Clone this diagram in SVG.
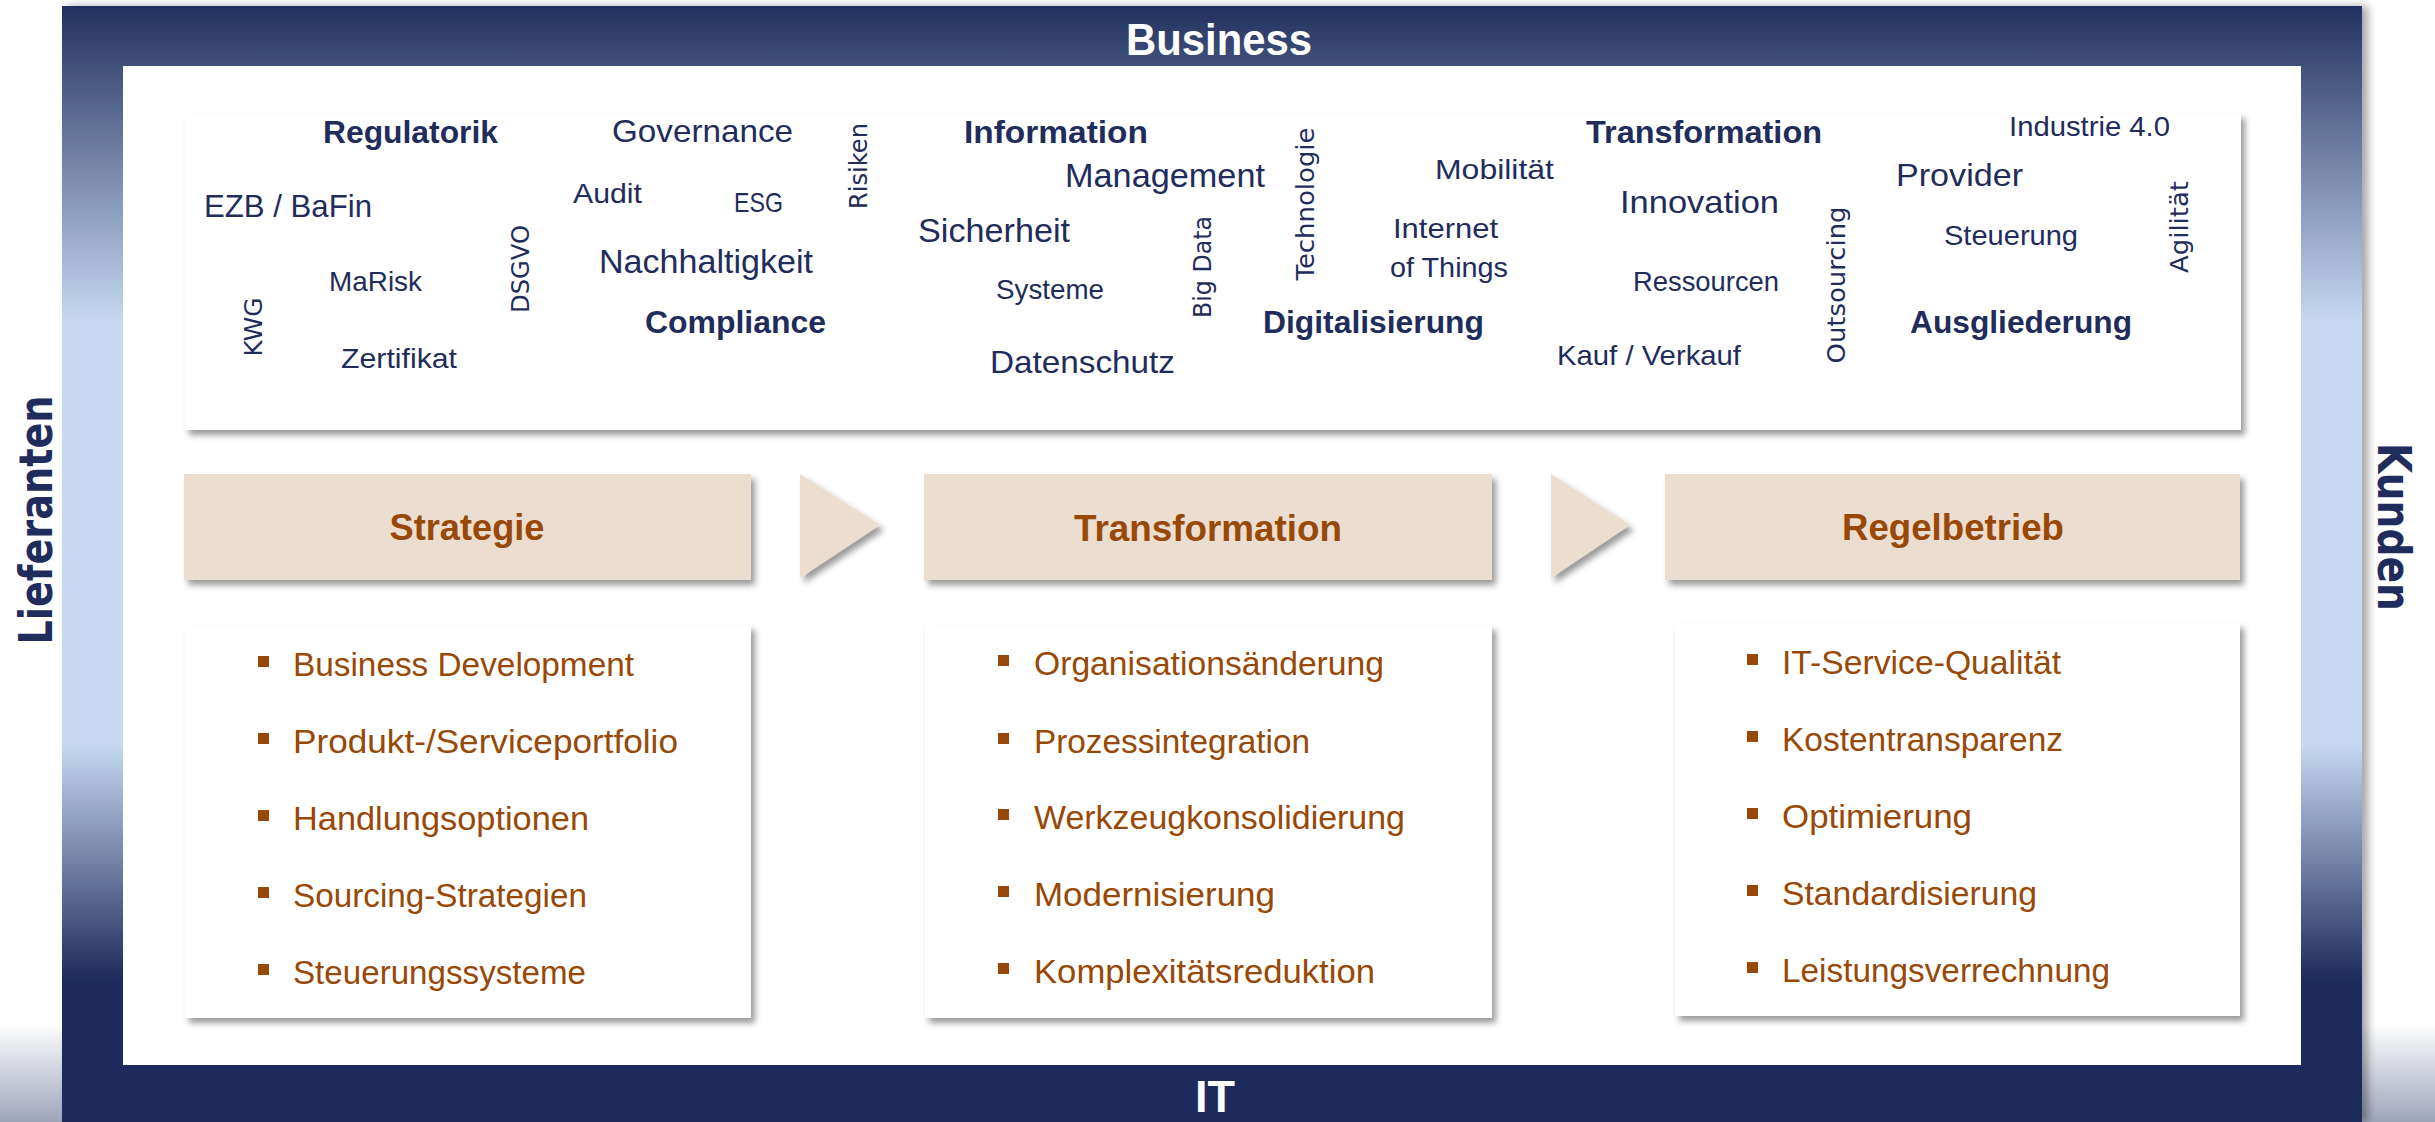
<svg xmlns="http://www.w3.org/2000/svg" width="2435" height="1122" viewBox="0 0 2435 1122">
<defs>
<linearGradient id="frameGrad" gradientUnits="userSpaceOnUse" x1="0" y1="6" x2="0" y2="1122">
<stop offset="0" stop-color="#22315F"/>
<stop offset="0.283" stop-color="#C6D9F1"/>
<stop offset="0.661" stop-color="#C6D9F1"/>
<stop offset="0.873" stop-color="#1D2B5B"/>
<stop offset="1" stop-color="#1D2B5B"/>
</linearGradient>
<linearGradient id="cornerGrad" x1="0" y1="0" x2="0" y2="1">
<stop offset="0" stop-color="#FFFFFF"/>
<stop offset="1" stop-color="#9EA5BA"/>
</linearGradient>
<filter id="sh" x="-5%" y="-10%" width="115%" height="130%">
<feDropShadow dx="4" dy="5" stdDeviation="3" flood-color="#000000" flood-opacity="0.4"/>
</filter>
<filter id="fsh" x="-2%" y="-2%" width="106%" height="104%">
<feDropShadow dx="6" dy="0" stdDeviation="4" flood-color="#000000" flood-opacity="0.35"/>
</filter>
<style>
.cw{font-family:"Liberation Sans",Arial,sans-serif;fill:#1F2C5C}
.cb{font-family:"Liberation Sans",Arial,sans-serif;font-weight:bold;font-size:31px;fill:#1F2C5C}
.cl{font-size:32px}
.cs{font-size:28px}
.v{font-family:"DejaVu Sans",Verdana,sans-serif;font-size:25px;fill:#1F2C5C;text-anchor:middle}
.li{font-family:"Liberation Sans",Arial,sans-serif;font-size:34px;fill:#984807}
.hd{font-family:"Liberation Sans",Arial,sans-serif;font-weight:bold;font-size:37px;fill:#984807;text-anchor:middle}
.band{font-family:"Liberation Sans",Arial,sans-serif;font-weight:bold;font-size:45px;fill:#FFFFFF;text-anchor:middle}
.side{font-family:"DejaVu Sans",Verdana,sans-serif;font-weight:bold;font-size:46px;fill:#1F2C5C;text-anchor:middle}
.box{fill:#FFFFFF;filter:url(#sh)}
.hbox{fill:#EBDDCF;filter:url(#sh)}
.bul{fill:#984807}
</style>
</defs>
<rect x="0" y="0" width="2435" height="1122" fill="#FFFFFF"/>
<rect x="0" y="1023" width="62" height="99" fill="url(#cornerGrad)"/>
<rect x="2362" y="1023" width="73" height="99" fill="url(#cornerGrad)"/>

<g id="frame">
<rect x="62" y="6" width="2300" height="1116" fill="url(#frameGrad)" filter="url(#fsh)"/>
<rect x="123" y="66" width="2178" height="999" fill="#FFFFFF"/>
<text class="band" x="1219" y="55" textLength="186" lengthAdjust="spacingAndGlyphs">Business</text>
<text class="band" x="1215" y="1112">IT</text>
</g>
<g id="lieferanten">
<text class="side" transform="translate(52,520) rotate(-90)" textLength="249" lengthAdjust="spacingAndGlyphs">Lieferanten</text>
</g>
<g id="kunden">
<text class="side" transform="translate(2378,527) rotate(90)" textLength="168" lengthAdjust="spacingAndGlyphs">Kunden</text>
</g>

<g id="wordcloud">
<rect class="box" x="185" y="113" width="2056" height="317"/>
<text class="cb" x="323" y="143" textLength="175" lengthAdjust="spacingAndGlyphs">Regulatorik</text>
<text class="cb" x="645" y="333" textLength="181" lengthAdjust="spacingAndGlyphs">Compliance</text>
<text class="cb" x="964" y="143" textLength="184" lengthAdjust="spacingAndGlyphs">Information</text>
<text class="cb" x="1263" y="333" textLength="221" lengthAdjust="spacingAndGlyphs">Digitalisierung</text>
<text class="cb" x="1586" y="143" textLength="236" lengthAdjust="spacingAndGlyphs">Transformation</text>
<text class="cb" x="1910" y="333" textLength="222" lengthAdjust="spacingAndGlyphs">Ausgliederung</text>

<text class="cw cl" x="204" y="217" textLength="168" lengthAdjust="spacingAndGlyphs">EZB / BaFin</text>
<text class="cw cl" x="612" y="142" textLength="181" lengthAdjust="spacingAndGlyphs">Governance</text>
<text class="cw" style="font-size:33px" x="599" y="273" textLength="214" lengthAdjust="spacingAndGlyphs">Nachhaltigkeit</text>
<text class="cw" style="font-size:33px" x="1065" y="187" textLength="200" lengthAdjust="spacingAndGlyphs">Management</text>
<text class="cw" style="font-size:33px" x="918" y="242" textLength="152" lengthAdjust="spacingAndGlyphs">Sicherheit</text>
<text class="cw cl" x="990" y="373" textLength="185" lengthAdjust="spacingAndGlyphs">Datenschutz</text>
<text class="cw cl" x="1620" y="213" textLength="159" lengthAdjust="spacingAndGlyphs">Innovation</text>
<text class="cw cl" x="1896" y="186" textLength="127" lengthAdjust="spacingAndGlyphs">Provider</text>

<text class="cw cs" x="573" y="203" textLength="69" lengthAdjust="spacingAndGlyphs">Audit</text>
<text class="cw cs" x="734" y="212" textLength="49" lengthAdjust="spacingAndGlyphs">ESG</text>
<text class="cw cs" x="329" y="291" textLength="93" lengthAdjust="spacingAndGlyphs">MaRisk</text>
<text class="cw cs" x="341" y="368" textLength="116" lengthAdjust="spacingAndGlyphs">Zertifikat</text>
<text class="cw cs" x="996" y="299" textLength="108" lengthAdjust="spacingAndGlyphs">Systeme</text>
<text class="cw cs" x="1435" y="179" textLength="119" lengthAdjust="spacingAndGlyphs">Mobilität</text>
<text class="cw cs" x="1393" y="238" textLength="105" lengthAdjust="spacingAndGlyphs">Internet</text>
<text class="cw cs" x="1390" y="277" textLength="118" lengthAdjust="spacingAndGlyphs">of Things</text>
<text class="cw cs" x="1557" y="365" textLength="184" lengthAdjust="spacingAndGlyphs">Kauf / Verkauf</text>
<text class="cw cs" x="2009" y="136" textLength="161" lengthAdjust="spacingAndGlyphs">Industrie 4.0</text>
<text class="cw cs" x="1944" y="245" textLength="134" lengthAdjust="spacingAndGlyphs">Steuerung</text>
<text class="cw cs" x="1633" y="291" textLength="146" lengthAdjust="spacingAndGlyphs">Ressourcen</text>

<text class="v" transform="translate(867,166) rotate(-90)" textLength="86" lengthAdjust="spacingAndGlyphs">Risiken</text>
<text class="v" transform="translate(529,269) rotate(-90)" textLength="88" lengthAdjust="spacingAndGlyphs">DSGVO</text>
<text class="v" transform="translate(262,327) rotate(-90)" textLength="59" lengthAdjust="spacingAndGlyphs">KWG</text>
<text class="v" transform="translate(1211,267) rotate(-90)" textLength="102" lengthAdjust="spacingAndGlyphs">Big Data</text>
<text class="v" transform="translate(1314,204) rotate(-90)" textLength="153" lengthAdjust="spacingAndGlyphs">Technologie</text>
<text class="v" transform="translate(1845,285) rotate(-90)" textLength="157" lengthAdjust="spacingAndGlyphs">Outsourcing</text>
<text class="v" transform="translate(2188,227) rotate(-90)" textLength="92" lengthAdjust="spacingAndGlyphs">Agilität</text>
</g>

<g id="strategie">
<rect class="hbox" x="184" y="474" width="567" height="106"/>
<text class="hd" x="467" y="540" textLength="155" lengthAdjust="spacingAndGlyphs">Strategie</text>
</g>
<g id="transformation">
<rect class="hbox" x="924" y="474" width="568" height="106"/>
<text class="hd" x="1208" y="541" textLength="268" lengthAdjust="spacingAndGlyphs">Transformation</text>
</g>
<g id="regelbetrieb">
<rect class="hbox" x="1665" y="474" width="575" height="106"/>
<text class="hd" x="1953" y="540" textLength="222" lengthAdjust="spacingAndGlyphs">Regelbetrieb</text>
</g>

<g id="connectors">
<polygon class="hbox" points="800,474 880,525 800,578"/>
<polygon class="hbox" points="1551,474 1630,525 1551,578"/>
</g>

<g id="strategie-liste">
<rect class="box" x="185" y="625" width="566" height="393"/>
<rect class="bul" x="258" y="656" width="11" height="11"/>
<rect class="bul" x="258" y="733" width="11" height="11"/>
<rect class="bul" x="258" y="810" width="11" height="11"/>
<rect class="bul" x="258" y="887" width="11" height="11"/>
<rect class="bul" x="258" y="964" width="11" height="11"/>
<text class="li" x="293" y="676" textLength="341" lengthAdjust="spacingAndGlyphs">Business Development</text>
<text class="li" x="293" y="753" textLength="385" lengthAdjust="spacingAndGlyphs">Produkt-/Serviceportfolio</text>
<text class="li" x="293" y="830" textLength="296" lengthAdjust="spacingAndGlyphs">Handlungsoptionen</text>
<text class="li" x="293" y="907" textLength="294" lengthAdjust="spacingAndGlyphs">Sourcing-Strategien</text>
<text class="li" x="293" y="984" textLength="293" lengthAdjust="spacingAndGlyphs">Steuerungssysteme</text>
</g>

<g id="transformation-liste">
<rect class="box" x="925" y="625" width="567" height="393"/>
<rect class="bul" x="998" y="655" width="11" height="11"/>
<rect class="bul" x="998" y="733" width="11" height="11"/>
<rect class="bul" x="998" y="809" width="11" height="11"/>
<rect class="bul" x="998" y="886" width="11" height="11"/>
<rect class="bul" x="998" y="963" width="11" height="11"/>
<text class="li" x="1034" y="675" textLength="350" lengthAdjust="spacingAndGlyphs">Organisationsänderung</text>
<text class="li" x="1034" y="753" textLength="276" lengthAdjust="spacingAndGlyphs">Prozessintegration</text>
<text class="li" x="1034" y="829" textLength="371" lengthAdjust="spacingAndGlyphs">Werkzeugkonsolidierung</text>
<text class="li" x="1034" y="906" textLength="241" lengthAdjust="spacingAndGlyphs">Modernisierung</text>
<text class="li" x="1034" y="983" textLength="341" lengthAdjust="spacingAndGlyphs">Komplexitätsreduktion</text>
</g>

<g id="regelbetrieb-liste">
<rect class="box" x="1675" y="623" width="565" height="393"/>
<rect class="bul" x="1747" y="654" width="11" height="11"/>
<rect class="bul" x="1747" y="731" width="11" height="11"/>
<rect class="bul" x="1747" y="808" width="11" height="11"/>
<rect class="bul" x="1747" y="885" width="11" height="11"/>
<rect class="bul" x="1747" y="962" width="11" height="11"/>
<text class="li" x="1782" y="674" textLength="279" lengthAdjust="spacingAndGlyphs">IT-Service-Qualität</text>
<text class="li" x="1782" y="751" textLength="281" lengthAdjust="spacingAndGlyphs">Kostentransparenz</text>
<text class="li" x="1782" y="828" textLength="190" lengthAdjust="spacingAndGlyphs">Optimierung</text>
<text class="li" x="1782" y="905" textLength="255" lengthAdjust="spacingAndGlyphs">Standardisierung</text>
<text class="li" x="1782" y="982" textLength="328" lengthAdjust="spacingAndGlyphs">Leistungsverrechnung</text>
</g>
</svg>
